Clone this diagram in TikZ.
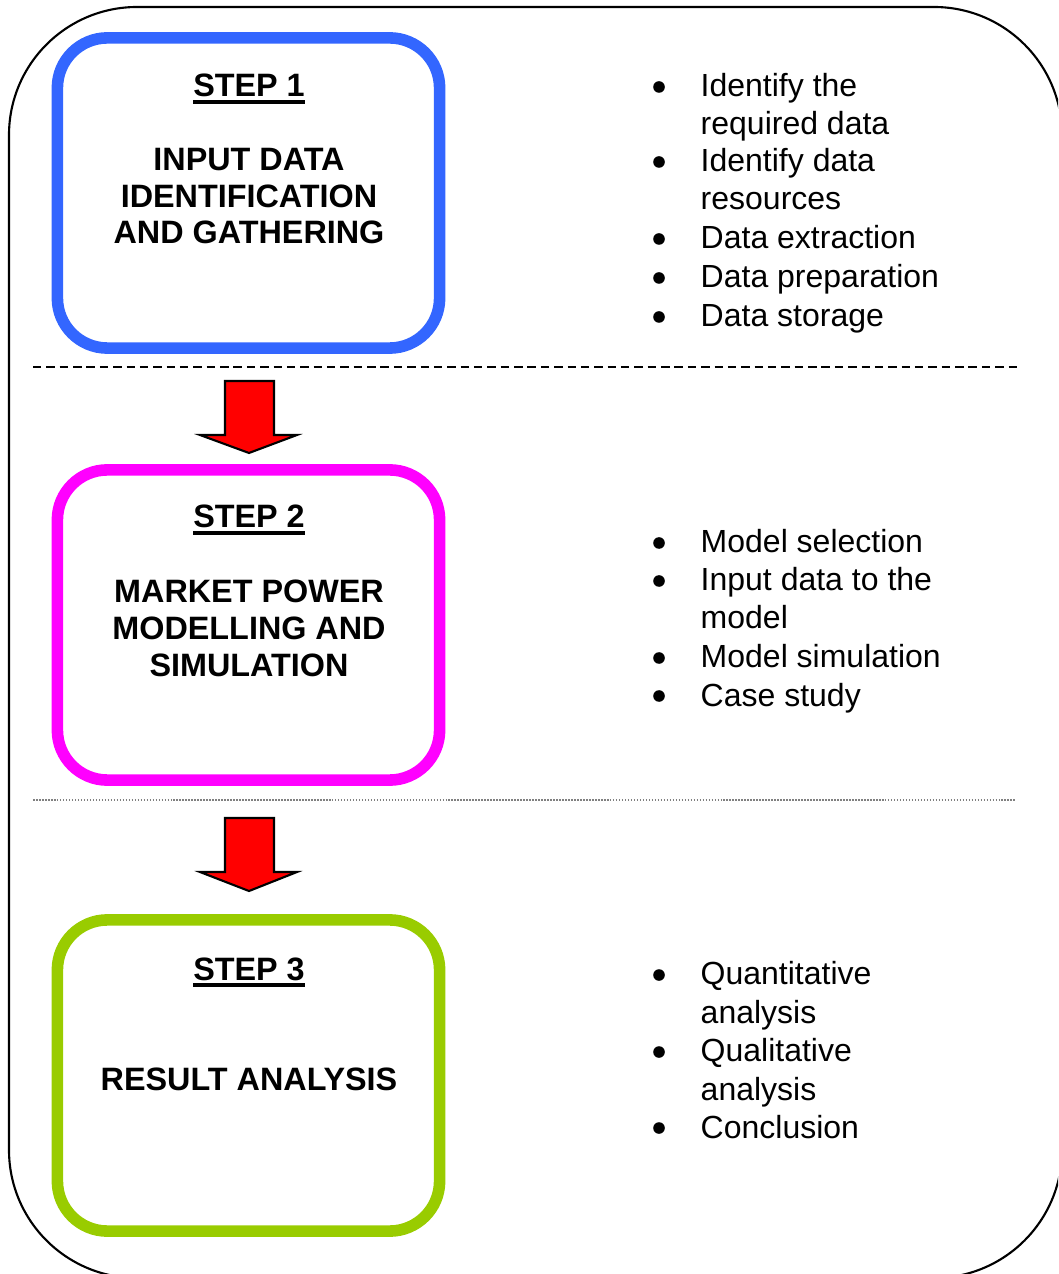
\documentclass[tikz,border=0pt]{standalone}
\usepackage{fontspec}
\setmainfont{Liberation Sans}
\usetikzlibrary{positioning}

\definecolor{stepblue}{RGB}{51,102,255}
\definecolor{stepmagenta}{RGB}{255,0,255}
\definecolor{stepgreen}{RGB}{153,204,0}

% thick underline for the step headings
\newcommand{\stepul}[1]{\vtop{\hbox{#1}\kern0.7pt\hrule height 1.1pt}}

\tikzset{
  stepbox/.style={draw,line width=3.3pt,rounded corners=0.5cm,
    minimum width=3.82cm,minimum height=3.1cm,inner sep=0pt},
  steptitle/.style={font=\fontsize{9.2}{10.5}\selectfont\bfseries,
    align=center,anchor=base,inner sep=0pt},
  itemtext/.style={font=\fontsize{9.1}{10.9}\selectfont,align=left,
    anchor=base west,inner sep=0pt},
  bulletmark/.style={circle,fill=black,inner sep=0pt,minimum size=3.3pt},
  blockarrow/.style={fill=red,draw=black,line width=0.6pt,line join=miter}
}

\begin{document}
\begin{tikzpicture}[line cap=butt,line join=round,x=0.01cm,y=-0.01cm]
  \useasboundingbox (0,0) rectangle (1058,1274);
  \clip (0,0) rectangle (1058,1274);

  % outer frame
  \draw [line width=0.6pt,rounded corners=1.28cm] (9,7) rectangle (1062,1278);

  % the three steps
  \node [stepbox,draw=stepblue] (box1) at (248.5,193) {};
  \node [stepbox,draw=stepmagenta] (box2) at (248.5,625) {};
  \node [stepbox,draw=stepgreen,minimum height=3.11cm] (box3) at (248.5,1075.5) {};

  % (base of a multi-line node = its last line)
  \node [steptitle] (head1) at (249,97) {\stepul{STEP 1}};
  \node [steptitle] (name1) at (249,244) {INPUT DATA\\IDENTIFICATION\\AND GATHERING};
  \node [steptitle] (head2) at (249,528) {\stepul{STEP 2}};
  \node [steptitle] (name2) at (249,676) {MARKET POWER\\MODELLING AND\\SIMULATION};
  \node [steptitle] (head3) at (249,980) {\stepul{STEP 3}};
  \node [steptitle] (name3) at (249,1090) {RESULT ANALYSIS};

  % separators
  \draw [line width=0.6pt,dash pattern=on 2.4pt off 1.4pt] (33,367) -- (1018,367);
  \draw [line width=0.4pt,gray,dash pattern=on 0.45pt off 0.4pt] (33,800) -- (1016,800);

  % block arrows
  \foreach \t/\w/\p in {381/435/453, 818/872/891}
    \draw [blockarrow] (225,\t) -- (274,\t) -- (274,\w) -- (297,\w) -- (249,\p)
      -- (200,\w) -- (225,\w) -- cycle;

  % bullet lists: first line / last line / text
  \foreach \yb/\yl/\txt [count=\k] in {97/135/{Identify the\\required data},
      172/210/{Identify data\\resources}, 249/249/{Data extraction},
      288/288/{Data preparation}, 327/327/{Data storage},
      553/553/{Model selection}, 591/629/{Input data to the\\model},
      668/668/{Model simulation}, 706/706/{Case study},
      985/1023/{Quantitative\\analysis}, 1062/1100/{Qualitative\\analysis},
      1138/1138/{Conclusion}}
  {
    \node [bulletmark] (bul\k) at (659,\yb-10) {};
    \node [itemtext] (itm\k) at (700,\yl) {\txt};
  }
\end{tikzpicture}
\end{document}
